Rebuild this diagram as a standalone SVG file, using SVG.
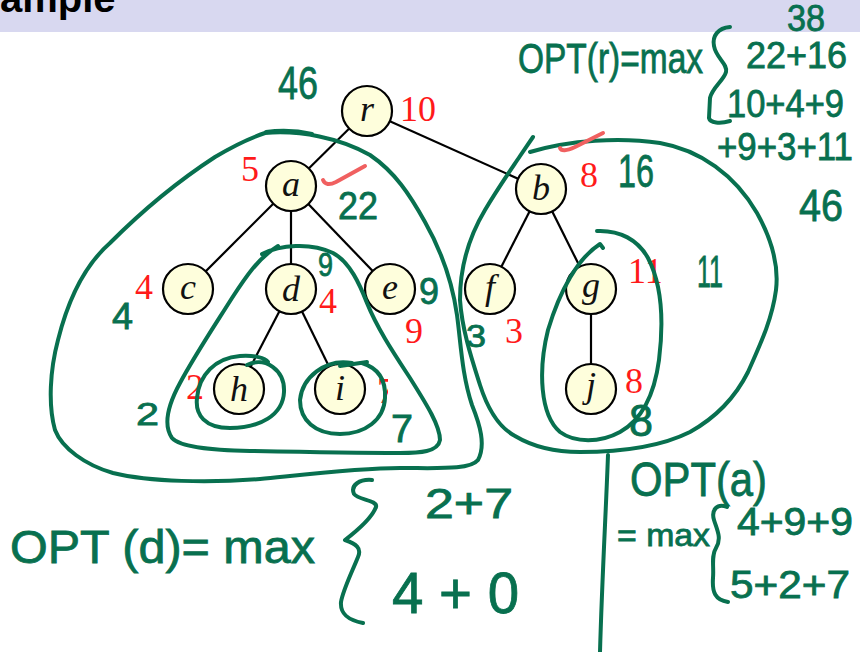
<svg xmlns="http://www.w3.org/2000/svg" width="860" height="652" viewBox="0 0 860 652">
<style>
.node circle{fill:#FEFEDC;stroke:#000;stroke-width:2.2}
.lbl{font-family:"Liberation Serif",serif;font-style:italic;font-size:36px;fill:#111;text-anchor:middle}
.w{font-family:"Liberation Serif",serif;font-size:36px;fill:#FF1A1A}
.ink{fill:none;stroke:#08704F;stroke-width:4;stroke-linecap:round;stroke-linejoin:round}
.red{fill:none;stroke:#F06060;stroke-width:4;stroke-linecap:round;stroke-linejoin:round}
.hw{font-family:"Liberation Sans",sans-serif;fill:#08704F;stroke:#08704F;stroke-width:0.8}
.edge{stroke:#000;stroke-width:2.2}
</style>
<defs>
<clipPath id="c7"><rect x="360" y="370" width="28" height="40"/></clipPath>
</defs>
<rect x="0" y="0" width="860" height="32" fill="#D8D8F0"/>
<text x="0" y="12" font-family="Liberation Sans,sans-serif" font-weight="bold" font-size="40" fill="#000">ample</text>

<g id="connectors">
<line class="edge" x1="367" y1="111" x2="291" y2="186"/>
<line class="edge" x1="367" y1="111" x2="541" y2="189"/>
<line class="edge" x1="291" y1="186" x2="188" y2="289"/>
<line class="edge" x1="291" y1="186" x2="291" y2="289"/>
<line class="edge" x1="291" y1="186" x2="390" y2="289"/>
<line class="edge" x1="541" y1="189" x2="490" y2="289"/>
<line class="edge" x1="541" y1="189" x2="591" y2="289"/>
<line class="edge" x1="291" y1="289" x2="239" y2="389"/>
<line class="edge" x1="291" y1="289" x2="340" y2="389"/>
<line class="edge" x1="591" y1="289" x2="591" y2="389"/>
</g>

<g id="node-r" class="node"><circle cx="367" cy="111" r="25"/><text class="lbl" x="367" y="121">r</text></g>
<g id="node-a" class="node"><circle cx="291" cy="186" r="25"/><text class="lbl" x="291" y="196">a</text></g>
<g id="node-b" class="node"><circle cx="541" cy="189" r="25"/><text class="lbl" x="541" y="200">b</text></g>
<g id="node-c" class="node"><circle cx="188" cy="289" r="25"/><text class="lbl" x="188" y="299">c</text></g>
<g id="node-d" class="node"><circle cx="291" cy="289" r="25"/><text class="lbl" x="291" y="301">d</text></g>
<g id="node-e" class="node"><circle cx="390" cy="289" r="25"/><text class="lbl" x="390" y="299">e</text></g>
<g id="node-f" class="node"><circle cx="490" cy="289" r="25"/><text class="lbl" x="490" y="299">f</text></g>
<g id="node-g" class="node"><circle cx="591" cy="289" r="25"/><text class="lbl" x="591" y="297">g</text></g>
<g id="node-h" class="node"><circle cx="239" cy="389" r="25"/><text class="lbl" x="239" y="401">h</text></g>
<g id="node-i" class="node"><circle cx="340" cy="389" r="25"/><text class="lbl" x="340" y="400">i</text></g>
<g id="node-j" class="node"><circle cx="591" cy="389" r="25"/><text class="lbl" x="591" y="397">j</text></g>

<g id="weights">
<text class="w" x="400" y="121">10</text>
<text class="w" x="241" y="181">5</text>
<text class="w" x="580" y="187">8</text>
<text class="w" x="135" y="299">4</text>
<text class="w" x="319" y="313">4</text>
<text class="w" x="405" y="343">9</text>
<text class="w" x="505" y="343">3</text>
<text class="w" x="628" y="283">11</text>
<text class="w" x="625" y="393">8</text>
<text class="w" x="186" y="399">2</text>
<text class="w" x="377" y="403" clip-path="url(#c7)">7</text>
</g>

<g id="annotations">
<path class="ink" d="M 265,133 C 300,130 340,138 370,155 C 395,172 410,195 425,222 C 442,252 452,280 457,315 C 461,345 462,375 472,405 C 480,425 486,445 478,460 C 470,470 440,468 400,468 C 360,468 310,474 260,479 C 210,483 150,482 113,473 C 85,465 62,448 55,430 C 48,405 50,370 58,340 C 68,300 85,265 110,243 C 140,213 175,183 215,157 C 235,145 250,138 265,133"/>
<path class="ink" d="M 266,132 Q 290,129 312,134"/>
<path class="ink" d="M 262,254 C 280,245 310,242 333,253 C 350,262 360,285 367,303 C 378,330 395,355 410,378 C 425,402 440,425 440,440 C 438,452 420,453 400,453 C 360,453 300,452 250,451 C 210,450 180,447 172,438 C 163,425 168,405 180,383 C 195,355 215,325 232,298 C 245,278 258,258 278,246"/>
<path class="ink" d="M 247,365 C 265,356 285,370 284,392 C 283,415 260,428 230,428 C 205,428 195,415 197,398 C 199,375 215,358 240,356 C 255,355 265,358 268,362"/>
<path class="ink" d="M 367,362 L 340,366 M 352,363 C 325,358 302,378 300,400 C 300,420 315,434 340,434 C 365,434 384,420 385,398 C 386,380 378,368 362,363"/>
<path class="ink" d="M 530,152 C 570,140 620,137 660,143 C 700,150 735,175 757,213 C 772,240 779,265 776,290 C 772,320 760,345 748,372 C 735,398 715,418 690,432 C 660,447 620,452 580,452 C 550,452 530,445 515,436 C 500,428 488,410 480,385 C 472,360 462,330 460,300 C 460,265 470,235 485,210 C 498,188 512,168 520,156 L 533,137"/>
<path class="ink" d="M 603,248 L 600,244 C 578,258 560,290 548,330 C 538,370 540,415 560,432 C 575,443 600,443 620,432 C 645,418 655,390 659,360 C 664,320 662,285 648,258 C 638,240 620,230 597,231"/>
<path class="ink" d="M 608,455 C 606,510 602,580 600,652"/>
<path class="ink" d="M 730,27 C 718,28 712,36 714,46 C 716,58 728,64 726,72 C 724,80 712,88 710,98 L 709,118 C 710,123 720,124 730,121"/>
<path class="ink" d="M 727,507 C 717,503 711,510 714,520 C 717,530 722,538 716,548 C 711,556 714,566 713,578 C 712,592 715,600 728,602"/>
<path class="ink" d="M 372,480 C 360,479 350,485 354,494 C 358,500 378,500 376,507 C 372,518 358,530 345,540 C 356,544 362,548 358,557 C 352,572 343,590 341,602 C 340,614 348,620 363,623"/>
<path class="red" d="M 323,180 Q 326,187 336,182 L 365,166"/>
<path class="red" d="M 560,148 Q 562,153 575,147 L 603,133"/>

<text class="hw" x="278" y="99" font-size="46" textLength="40" lengthAdjust="spacingAndGlyphs">46</text>
<text class="hw" x="338" y="219" font-size="38" textLength="40" lengthAdjust="spacingAndGlyphs">22</text>
<text class="hw" x="318" y="276" font-size="34" textLength="15" lengthAdjust="spacingAndGlyphs">9</text>
<text class="hw" x="419" y="304" font-size="36" textLength="20" lengthAdjust="spacingAndGlyphs">9</text>
<text class="hw" x="112" y="329" font-size="36" textLength="21" lengthAdjust="spacingAndGlyphs">4</text>
<text class="hw" x="136" y="425" font-size="32" textLength="23" lengthAdjust="spacingAndGlyphs">2</text>
<text class="hw" x="391" y="442" font-size="38" textLength="22" lengthAdjust="spacingAndGlyphs">7</text>
<text class="hw" x="466" y="347" font-size="32" textLength="20" lengthAdjust="spacingAndGlyphs">3</text>
<text class="hw" x="618" y="187" font-size="46" textLength="36" lengthAdjust="spacingAndGlyphs">16</text>
<text class="hw" x="697" y="287" font-size="44" textLength="26" lengthAdjust="spacingAndGlyphs">11</text>
<text class="hw" x="629" y="436" font-size="44" textLength="24" lengthAdjust="spacingAndGlyphs">8</text>
<text class="hw" x="518" y="73" font-size="42" textLength="185" lengthAdjust="spacingAndGlyphs">OPT(r)=max</text>
<text class="hw" x="787" y="31" font-size="36" textLength="38" lengthAdjust="spacingAndGlyphs">38</text>
<text class="hw" x="746" y="68" font-size="36" textLength="101" lengthAdjust="spacingAndGlyphs">22+16</text>
<text class="hw" x="727" y="117" font-size="38" textLength="117" lengthAdjust="spacingAndGlyphs">10+4+9</text>
<text class="hw" x="717" y="160" font-size="38" textLength="136" lengthAdjust="spacingAndGlyphs">+9+3+11</text>
<text class="hw" x="799" y="221" font-size="44" textLength="44" lengthAdjust="spacingAndGlyphs">46</text>
<text class="hw" x="10" y="563" font-size="46" textLength="305" lengthAdjust="spacingAndGlyphs">OPT (d)= max</text>
<text class="hw" x="425" y="518" font-size="42" textLength="88" lengthAdjust="spacingAndGlyphs">2+7</text>
<text class="hw" x="392" y="613" font-size="58" textLength="127" lengthAdjust="spacingAndGlyphs">4 + 0</text>
<text class="hw" x="630" y="496" font-size="48" textLength="137" lengthAdjust="spacingAndGlyphs">OPT(a)</text>
<text class="hw" x="617" y="546" font-size="32" textLength="93" lengthAdjust="spacingAndGlyphs">= max</text>
<text class="hw" x="737" y="535" font-size="38" textLength="116" lengthAdjust="spacingAndGlyphs">4+9+9</text>
<text class="hw" x="730" y="598" font-size="38" textLength="120" lengthAdjust="spacingAndGlyphs">5+2+7</text>
</g>
</svg>
